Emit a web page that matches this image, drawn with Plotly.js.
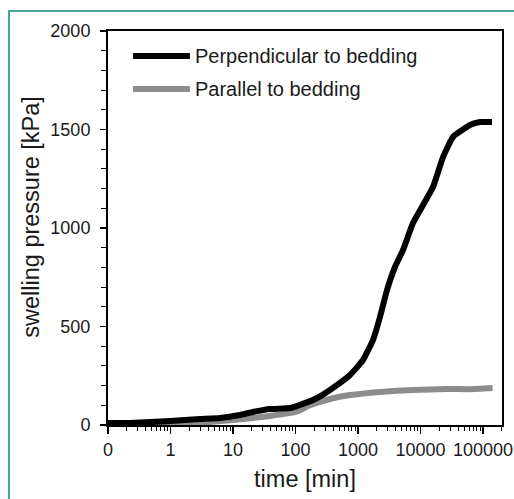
<!DOCTYPE html>
<html>
<head>
<meta charset="utf-8">
<script src="https://cdn.plot.ly/plotly-3.0.1.min.js"></script>
<style>
html,body{margin:0;padding:0;background:#fff;}
#wrap{position:relative;width:514px;height:499px;overflow:hidden;}
#chart{position:absolute;left:0;top:0;width:514px;height:499px;}
#frame{position:absolute;left:8px;top:10px;width:530px;height:520px;border:2px solid #4aa89a;pointer-events:none;box-sizing:border-box;}
</style>
</head>
<body>
<div id="wrap"><div id="chart"></div><div id="frame"></div></div>
<script>
// Series names
const seriesNames = ["Perpendicular to bedding", "Parallel to bedding"];
// Perpendicular to bedding (time [min], swelling pressure [kPa])
const perpTime = [0.1, 0.225, 1, 2.96, 6.2, 12.9, 20.9, 39, 82, 118, 221, 356, 745, 1202, 1738, 2249, 2911, 3908, 5248, 7586, 15849, 22909, 33113, 61944, 89536, 139316];
const perpPressure = [10, 10, 20, 30, 36, 51, 66, 81, 86, 102, 137, 178, 254, 330, 431, 548, 685, 802, 888, 1025, 1208, 1360, 1462, 1523, 1538, 1538];
// Parallel to bedding
const paraTime = [0.225, 1, 3, 10, 21, 39, 100, 170, 356, 745, 2249, 7586, 27000, 62000, 142000];
const paraPressure = [5, 8, 12, 25, 36, 46, 66, 100, 132, 152, 168, 178, 183, 182, 188];
// Axis ticks and titles
const xTickVals = [0.1, 1, 10, 100, 1000, 10000, 100000];
const xTickText = ["0", "1", "10", "100", "1000", "10000", "100000"];
const yTickVals = [0, 500, 1000, 1500, 2000];
const xTitle = "time [min]";
const yTitle = "swelling pressure [kPa]";

const FONT = "Liberation Sans, Arial, sans-serif";

const traces = [
  {x: paraTime, y: paraPressure, type: 'scatter', mode: 'lines', name: seriesNames[1],
   line: {color: '#8c8c8c', width: 6, shape: 'spline', smoothing: 0.4}, showlegend: false},
  {x: perpTime, y: perpPressure, type: 'scatter', mode: 'lines', name: seriesNames[0],
   line: {color: '#000000', width: 6, shape: 'spline', smoothing: 0.4}, showlegend: false}
];

const legendColors = ['#000000', '#8c8c8c'];
const legendY = [0.9365, 0.853];
const shapes = [], annotations = [];
seriesNames.forEach((n, i) => {
  shapes.push({type: 'line', xref: 'paper', yref: 'paper', x0: 0.0635, x1: 0.208, y0: legendY[i], y1: legendY[i],
    line: {color: legendColors[i], width: 6}, layer: 'above'});
  annotations.push({xref: 'paper', yref: 'paper', x: 0.217, y: legendY[i], xanchor: 'left', yanchor: 'middle',
    text: n, showarrow: false, font: {family: FONT, size: 20, color: '#1a1a1a'}});
});
// y axis title, placed slightly above the plot centre as in the reference
annotations.push({xref: 'paper', yref: 'paper', x: -0.196, y: 0.528, xanchor: 'center', yanchor: 'middle',
  textangle: -90, text: yTitle, showarrow: false, font: {family: FONT, size: 23.5, color: '#1a1a1a'}});

const layout = {
  width: 514, height: 499,
  margin: {l: 108, r: 12, t: 31, b: 74},
  paper_bgcolor: '#ffffff', plot_bgcolor: '#ffffff',
  showlegend: false,
  xaxis: {
    type: 'log', range: [-1, 5.304], autorange: false,
    tickmode: 'array', tickvals: xTickVals, ticktext: xTickText,
    ticks: 'outside', ticklen: 7, tickwidth: 1.5, tickcolor: '#000',
    minor: {dtick: 'D1', ticks: 'outside', ticklen: 4, tickwidth: 1, tickcolor: '#000', showgrid: false},
    showline: true, linecolor: '#000', linewidth: 2, mirror: true,
    showgrid: false, zeroline: false,
    tickfont: {family: FONT, size: 18, color: '#1a1a1a'},
    title: {text: xTitle, font: {family: FONT, size: 23.5, color: '#1a1a1a'}, standoff: 12},
    automargin: false
  },
  yaxis: {
    range: [0, 2000], autorange: false,
    tickmode: 'array', tickvals: yTickVals,
    ticks: 'outside', ticklen: 6, tickwidth: 1.5, tickcolor: '#000',
    minor: {dtick: 100, tick0: 0, ticks: 'outside', ticklen: 5, tickwidth: 1, tickcolor: '#000', showgrid: false},
    showline: true, linecolor: '#000', linewidth: 2, mirror: true,
    showgrid: false, zeroline: false,
    tickfont: {family: FONT, size: 18, color: '#1a1a1a'},
    ticklabelstandoff: 6,
    automargin: false
  },
  shapes: shapes,
  annotations: annotations
};

Plotly.newPlot('chart', traces, layout, {displayModeBar: false, staticPlot: true});
</script>
</body>
</html>
